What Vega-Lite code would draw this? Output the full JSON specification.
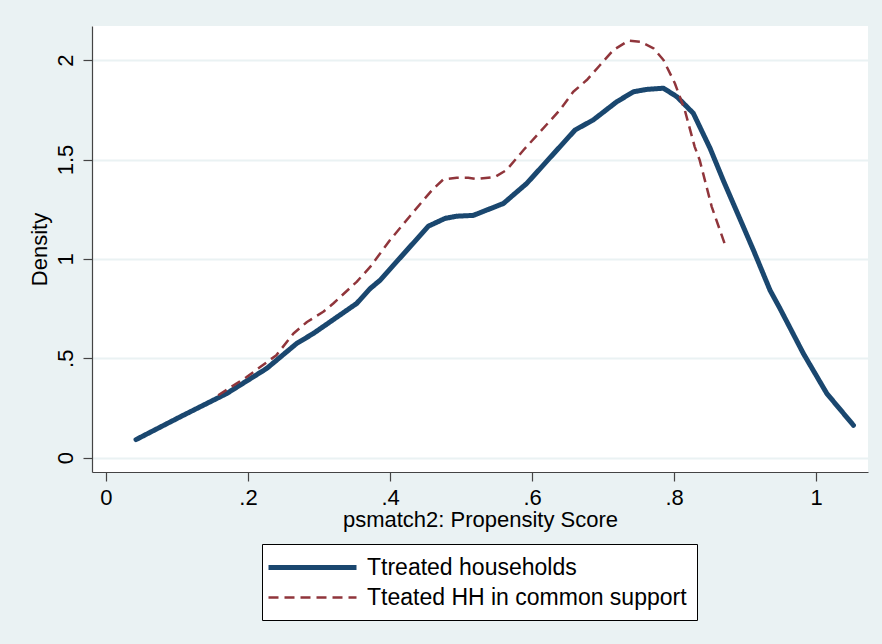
{
  "$schema": "https://vega.github.io/schema/vega-lite/v6.json",
  "width": 776,
  "height": 446,
  "autosize": {"type": "none"},
  "padding": {"left": 92, "top": 26, "right": 14, "bottom": 172},
  "background": "#EAF2F3",
  "data": {
    "values": [
      {"series": "Ttreated households", "x": 0.0423, "y": 0.091},
      {"series": "Ttreated households", "x": 0.1042, "y": 0.205},
      {"series": "Ttreated households", "x": 0.170, "y": 0.323},
      {"series": "Ttreated households", "x": 0.2263, "y": 0.449},
      {"series": "Ttreated households", "x": 0.2686, "y": 0.575},
      {"series": "Ttreated households", "x": 0.292, "y": 0.625},
      {"series": "Ttreated households", "x": 0.353, "y": 0.776},
      {"series": "Ttreated households", "x": 0.372, "y": 0.851},
      {"series": "Ttreated households", "x": 0.386, "y": 0.893},
      {"series": "Ttreated households", "x": 0.454, "y": 1.165},
      {"series": "Ttreated households", "x": 0.4775, "y": 1.204},
      {"series": "Ttreated households", "x": 0.494, "y": 1.215},
      {"series": "Ttreated households", "x": 0.517, "y": 1.219},
      {"series": "Ttreated households", "x": 0.5596, "y": 1.279},
      {"series": "Ttreated households", "x": 0.5925, "y": 1.380},
      {"series": "Ttreated households", "x": 0.635, "y": 1.548},
      {"series": "Ttreated households", "x": 0.6606, "y": 1.649},
      {"series": "Ttreated households", "x": 0.686, "y": 1.699},
      {"series": "Ttreated households", "x": 0.7193, "y": 1.791},
      {"series": "Ttreated households", "x": 0.7427, "y": 1.841},
      {"series": "Ttreated households", "x": 0.7615, "y": 1.853},
      {"series": "Ttreated households", "x": 0.785, "y": 1.859},
      {"series": "Ttreated households", "x": 0.804, "y": 1.816},
      {"series": "Ttreated households", "x": 0.827, "y": 1.733},
      {"series": "Ttreated households", "x": 0.8507, "y": 1.556},
      {"series": "Ttreated households", "x": 0.869, "y": 1.397},
      {"series": "Ttreated households", "x": 0.9117, "y": 1.044},
      {"series": "Ttreated households", "x": 0.935, "y": 0.843},
      {"series": "Ttreated households", "x": 0.949, "y": 0.751},
      {"series": "Ttreated households", "x": 0.982, "y": 0.524},
      {"series": "Ttreated households", "x": 1.015, "y": 0.323},
      {"series": "Ttreated households", "x": 1.0525, "y": 0.163},
      {"series": "Tteated HH in common support", "x": 0.158, "y": 0.314},
      {"series": "Tteated HH in common support", "x": 0.198, "y": 0.406},
      {"series": "Tteated HH in common support", "x": 0.240, "y": 0.516},
      {"series": "Tteated HH in common support", "x": 0.264, "y": 0.625},
      {"series": "Tteated HH in common support", "x": 0.283, "y": 0.683},
      {"series": "Tteated HH in common support", "x": 0.306, "y": 0.734},
      {"series": "Tteated HH in common support", "x": 0.320, "y": 0.776},
      {"series": "Tteated HH in common support", "x": 0.353, "y": 0.885},
      {"series": "Tteated HH in common support", "x": 0.372, "y": 0.960},
      {"series": "Tteated HH in common support", "x": 0.400, "y": 1.095},
      {"series": "Tteated HH in common support", "x": 0.433, "y": 1.237},
      {"series": "Tteated HH in common support", "x": 0.459, "y": 1.346},
      {"series": "Tteated HH in common support", "x": 0.475, "y": 1.400},
      {"series": "Tteated HH in common support", "x": 0.494, "y": 1.408},
      {"series": "Tteated HH in common support", "x": 0.510, "y": 1.408},
      {"series": "Tteated HH in common support", "x": 0.522, "y": 1.402},
      {"series": "Tteated HH in common support", "x": 0.548, "y": 1.413},
      {"series": "Tteated HH in common support", "x": 0.564, "y": 1.447},
      {"series": "Tteated HH in common support", "x": 0.588, "y": 1.548},
      {"series": "Tteated HH in common support", "x": 0.639, "y": 1.749},
      {"series": "Tteated HH in common support", "x": 0.658, "y": 1.841},
      {"series": "Tteated HH in common support", "x": 0.677, "y": 1.900},
      {"series": "Tteated HH in common support", "x": 0.6958, "y": 1.976},
      {"series": "Tteated HH in common support", "x": 0.7145, "y": 2.051},
      {"series": "Tteated HH in common support", "x": 0.7356, "y": 2.098},
      {"series": "Tteated HH in common support", "x": 0.752, "y": 2.093},
      {"series": "Tteated HH in common support", "x": 0.771, "y": 2.060},
      {"series": "Tteated HH in common support", "x": 0.785, "y": 2.001},
      {"series": "Tteated HH in common support", "x": 0.801, "y": 1.884},
      {"series": "Tteated HH in common support", "x": 0.815, "y": 1.749},
      {"series": "Tteated HH in common support", "x": 0.829, "y": 1.564},
      {"series": "Tteated HH in common support", "x": 0.836, "y": 1.497},
      {"series": "Tteated HH in common support", "x": 0.853, "y": 1.262},
      {"series": "Tteated HH in common support", "x": 0.873, "y": 1.058}
    ]
  },
  "encoding": {
    "x": {
      "field": "x", "type": "quantitative",
      "scale": {"domain": [-0.0197, 1.073], "nice": false, "zero": false},
      "axis": {
        "title": "psmatch2: Propensity Score",
        "values": [0, 0.2, 0.4, 0.6, 0.8, 1],
        "labelExpr": "replace(format(datum.value, '.1~f'), '0.', '.')",
        "grid": false,
        "titlePadding": 1
      }
    },
    "y": {
      "field": "y", "type": "quantitative",
      "scale": {"domain": [-0.072, 2.172], "nice": false, "zero": false},
      "axis": {
        "title": "Density",
        "values": [0, 0.5, 1, 1.5, 2],
        "labelExpr": "replace(format(datum.value, '.1~f'), '0.', '.')",
        "labelAngle": -90,
        "labelAlign": "center",
        "labelBaseline": "bottom",
        "grid": true,
        "titlePadding": 3
      }
    },
    "color": {
      "field": "series", "type": "nominal",
      "scale": {"domain": ["Ttreated households", "Tteated HH in common support"], "range": ["#1A476F", "#90353B"]},
      "title": null
    },
    "strokeDash": {
      "field": "series", "type": "nominal",
      "scale": {"domain": ["Ttreated households", "Tteated HH in common support"], "range": [[1, 0], [10, 6]]},
      "title": null
    },
    "strokeWidth": {
      "field": "series", "type": "nominal",
      "scale": {"domain": ["Ttreated households", "Tteated HH in common support"], "range": [5, 2.5]},
      "title": null
    }
  },
  "layer": [
    {
      "transform": [{"filter": "datum.series == 'Ttreated households'"}],
      "mark": {"type": "line", "strokeCap": "round", "strokeJoin": "round"}
    },
    {
      "transform": [{"filter": "datum.series == 'Tteated HH in common support'"}],
      "mark": {"type": "line", "strokeCap": "butt", "strokeJoin": "round"}
    }
  ],
  "config": {
    "font": "Liberation Sans",
    "view": {"fill": "white", "stroke": null},
    "axis": {
      "labelFont": "Liberation Sans",
      "titleFont": "Liberation Sans",
      "labelFontSize": 22,
      "titleFontSize": 22,
      "titleFontWeight": "normal",
      "labelColor": "#000000",
      "titleColor": "#000000",
      "domainColor": "#444444",
      "domainWidth": 1.2,
      "tickColor": "#444444",
      "tickWidth": 1.2,
      "tickSize": 9,
      "labelPadding": 6,
      "gridColor": "#EAF2F3",
      "gridWidth": 2,
      "labelOverlap": false
    },
    "legend": {
      "orient": "none",
      "legendX": 170,
      "legendY": 518,
      "direction": "vertical",
      "fillColor": "white",
      "strokeColor": "#000000",
      "padding": 10,
      "rowPadding": 5,
      "symbolType": "M-4,0H4",
      "symbolSize": 484,
      "symbolOffset": 27,
      "labelOffset": 41,
      "labelFont": "Liberation Sans",
      "labelFontSize": 23,
      "labelColor": "#000000",
      "labelLimit": 0
    }
  }
}
